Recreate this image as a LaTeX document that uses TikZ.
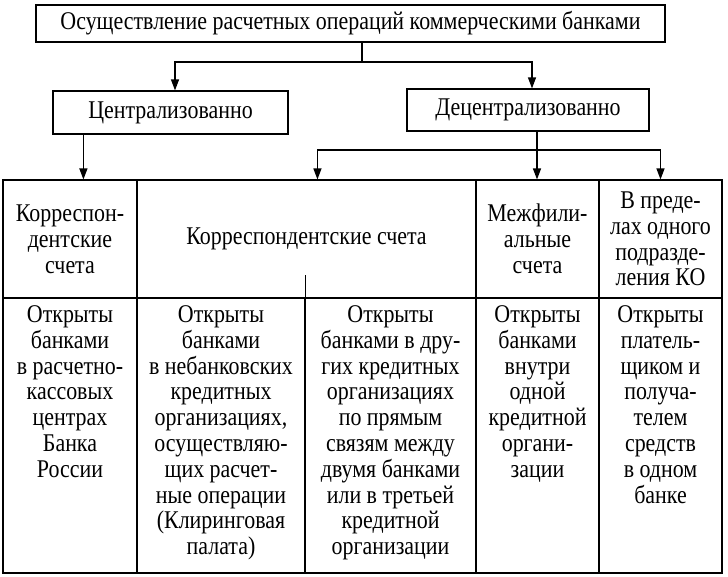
\documentclass[tikz,border=0pt]{standalone}
\usepackage{fontspec}
\setmainfont[FakeStretch=0.86]{Liberation Serif}
\usetikzlibrary{arrows.meta,positioning,calc}

\begin{document}
\begin{tikzpicture}[x=1pt,y=-1pt,
    box/.style={draw,line width=1.2pt,inner sep=0pt},
    cell/.style={draw,line width=1.1pt,inner sep=0pt},
    txt/.style={align=center,font=\fontsize{25.5}{25.8}\selectfont,inner sep=0pt},
    ln/.style={line width=1.2pt},
    arr/.style={-{Triangle[length=11pt,width=8pt]},line width=1.2pt}]
  \useasboundingbox (0,0) rectangle (728,576);

  % upper boxes
  \node[box,txt,minimum width=629pt,minimum height=37pt] (top) at (350.5,23.5)
    {Осуществление расчетных операций коммерческими банками};
  \node[box,txt,minimum width=235pt,minimum height=43pt] (cen) at (170.5,112.5) {Централизованно};
  \node[box,txt,minimum width=242pt,minimum height=42pt] (dec) at (528,110) {Децентрализованно};

  % table, upper row
  \node[cell,txt,minimum width=134pt,minimum height=118pt] (k1) at (70,239) {Корреспон-\\дентские\\счета};
  \node[cell,txt,minimum width=339pt,minimum height=118pt] (k2) at (306.5,239) {Корреспондентские счета};
  \node[cell,txt,minimum width=123pt,minimum height=118pt] (k3) at (537.5,239) {Межфили-\\альные\\счета};
  \node[cell,txt,minimum width=123pt,minimum height=118pt] (k4) at (660.5,239) {В преде-\\лах одного\\подразде-\\ления КО};

  % table, lower row
  \node[cell,minimum width=134pt,minimum height=275pt] (o1) at (70,435.5) {};
  \node[cell,minimum width=168pt,minimum height=275pt] (o2) at (221,435.5) {};
  \node[cell,minimum width=171pt,minimum height=275pt] (o3) at (390.5,435.5) {};
  \node[cell,minimum width=123pt,minimum height=275pt] (o4) at (537.5,435.5) {};
  \node[cell,minimum width=123pt,minimum height=275pt] (o5) at (660.5,435.5) {};
  \draw[cell] (o2.north east) -- ++(0,-22);

  \node[txt,anchor=north] (t1) at ($(o1.north)+(0,8)$)
    {Открыты\\банками\\в расчетно-\\кассовых\\центрах\\Банка\\России};
  \node[txt,anchor=north] (t2) at ($(o2.north)+(0,8)$)
    {Открыты\\банками\\в небанковских\\кредитных\\организациях,\\осуществляю-\\щих расчет-\\ные операции\\(Клиринговая\\палата)};
  \node[txt,anchor=north] (t3) at ($(o3.north)+(0,8)$)
    {Открыты\\банками в дру-\\гих кредитных\\организациях\\по прямым\\связям между\\двумя банками\\или в третьей\\кредитной\\организации};
  \node[txt,anchor=north] (t4) at ($(o4.north)+(0,8)$)
    {Открыты\\банками\\внутри\\одной\\кредитной\\органи-\\зации};
  \node[txt,anchor=north] (t5) at ($(o5.north)+(0,8)$)
    {Открыты\\платель-\\щиком и\\получа-\\телем\\средств\\в одном\\банке};

  % connectors
  \coordinate (j1) at (362,62);
  \draw[ln] (top.south -| j1) -- (j1);
  \draw[arr] (j1) -| ($(cen.north)+(4.5,0)$);
  \draw[arr] (j1) -| ($(dec.north)+(4,0)$);

  \coordinate (c0) at ($(cen.south west)+(31,0)$);
  \draw[arr] (c0) -- (c0 |- k1.north);

  \coordinate (j2) at (537,150);
  \draw[ln] (dec.south -| j2) -- (j2);
  \draw[arr] (j2) -| ($(k2.north west)+(181,0)$);
  \draw[arr] (j2) -- (j2 |- k3.north);
  \draw[arr] (j2) -| (k4.north);
\end{tikzpicture}
\end{document}
